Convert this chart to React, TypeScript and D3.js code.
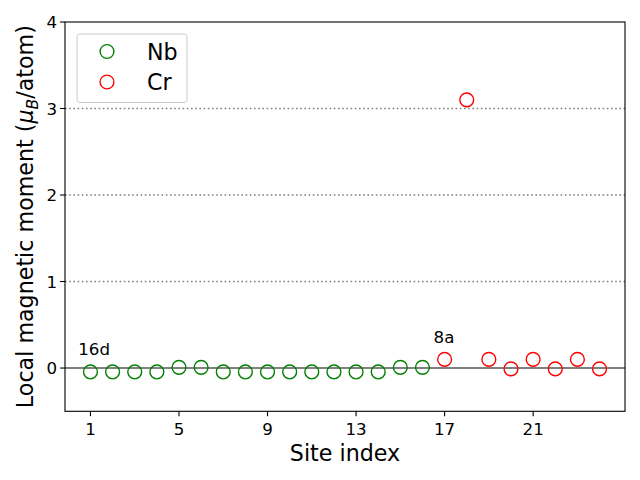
import React from "react";
import * as d3 from "d3";

const nbSites = [1, 2, 3, 4, 5, 6, 7, 8, 9, 10, 11, 12, 13, 14, 15, 16];
const nbMoments = [-0.045, -0.045, -0.045, -0.045, 0.008, 0.008, -0.045, -0.045, -0.045, -0.045, -0.045, -0.045, -0.045, -0.045, 0.008, 0.008];
const crSites = [17, 18, 19, 20, 21, 22, 23, 24];
const crMoments = [0.1, 3.1, 0.1, -0.01, 0.1, -0.01, 0.1, -0.01];
const xTicks = [1, 5, 9, 13, 17, 21];
const yTicks = [0, 1, 2, 3, 4];
const gridLevels = [1, 2, 3];
const annotations = [
  { text: "16d", x: 0.45, y: 0.15 },
  { text: "8a", x: 16.5, y: 0.29 },
];
const seriesNames = ["Nb", "Cr"];
const seriesColors = ["green", "red"];

const W = 640, H = 480;
const left = 65, right = 625, top = 22, bottom = 411.3;
const font = "DejaVu Sans, sans-serif";

export default function App() {
  const x = d3.scaleLinear().domain([-0.15, 25.15]).range([left, right]);
  const y = d3.scaleLinear().domain([-0.5, 4]).range([bottom, top]);
  const r = 6.9;
  const sw = 1.4;
  const series = [
    { sites: nbSites, vals: nbMoments },
    { sites: crSites, vals: crMoments },
  ];
  return (
    <svg width={W} height={H} style={{ position: "absolute", left: 0, top: 0, background: "white" }} fontFamily={font}>
      <rect x={0} y={0} width={W} height={H} fill="white" />
      {gridLevels.map((g) => (
        <line key={g} x1={left} x2={right} y1={y(g)} y2={y(g)} stroke="gray" strokeWidth={1.6} strokeDasharray="1.6,2.6" />
      ))}
      <line x1={left} x2={right} y1={y(0)} y2={y(0)} stroke="gray" strokeWidth={2} />
      {series.map((s, si) =>
        s.sites.map((site, i) => (
          <circle key={`${si}-${i}`} cx={x(site)} cy={y(s.vals[i])} r={r} fill="none" stroke={seriesColors[si]} strokeWidth={sw} />
        ))
      )}
      {annotations.map((a) => (
        <text key={a.text} x={x(a.x)} y={y(a.y)} fontSize={16.67} fill="black">{a.text}</text>
      ))}
      <rect x={left} y={top} width={right - left} height={bottom - top} fill="none" stroke="black" strokeWidth={1.1} />
      {xTicks.map((t) => (
        <g key={t}>
          <line x1={x(t)} x2={x(t)} y1={bottom} y2={bottom + 4.9} stroke="black" strokeWidth={1.1} />
          <text x={x(t)} y={bottom + 24} fontSize={16.67} textAnchor="middle">{t}</text>
        </g>
      ))}
      {yTicks.map((t) => (
        <g key={t}>
          <line x1={left - 4.9} x2={left} y1={y(t)} y2={y(t)} stroke="black" strokeWidth={1.1} />
          <text x={left - 8} y={y(t) + 6} fontSize={16.67} textAnchor="end">{t}</text>
        </g>
      ))}
      <text x={(left + right) / 2} y={461} fontSize={22.2} textAnchor="middle">Site index</text>
      <text transform={`translate(33, ${(top + bottom) / 2}) rotate(-90)`} fontSize={22.2} textAnchor="middle">
        Local magnetic moment (<tspan fontStyle="italic">μ</tspan>
        <tspan fontStyle="italic" fontSize={15.5} dy={5}>B</tspan>
        <tspan dy={-5}>/atom)</tspan>
      </text>
      <g>
        <rect x={77} y={34} width={110} height={68.5} rx={3} fill="white" fillOpacity={0.8} stroke="#cccccc" strokeWidth={1} />
        {seriesNames.map((n, i) => (
          <g key={n}>
            <circle cx={107} cy={51.5 + i * 30.5} r={r} fill="none" stroke={seriesColors[i]} strokeWidth={sw} />
            <text x={147} y={51.5 + i * 30.5 + 8} fontSize={22.2}>{n}</text>
          </g>
        ))}
      </g>
    </svg>
  );
}
